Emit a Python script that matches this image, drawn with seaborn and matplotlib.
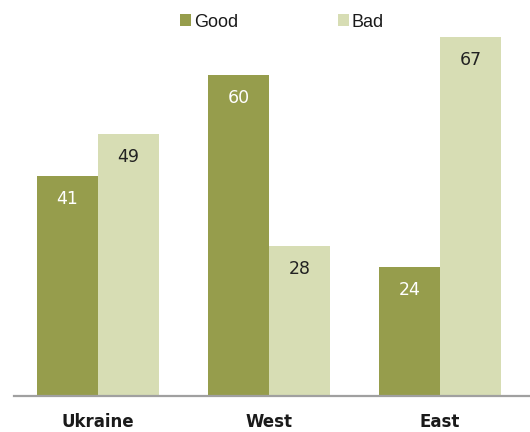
import matplotlib
matplotlib.use("Agg")
import matplotlib.pyplot as plt
import seaborn as sns
import pandas as pd

regions = ["Ukraine", "West", "East"]
series = ["Good", "Bad"]
good = [41, 60, 24]
bad = [49, 28, 67]

df = pd.DataFrame({
    "region": regions * 2,
    "series": ["Good"] * 3 + ["Bad"] * 3,
    "value": good + bad,
})

sns.set_style("white")
plt.rcParams['font.family'] = ['Liberation Sans', 'DejaVu Sans']

colors = {"Good": "#969D4C", "Bad": "#D7DDB4"}

fig = plt.figure(figsize=(5.30, 4.32), dpi=100)
ax = fig.add_axes([14/530, 36/432, 516/530, 375/432])
sns.barplot(data=df, x="region", y="value", hue="series", order=regions,
            hue_order=series, palette=colors, width=0.715, saturation=1,
            linewidth=0, ax=ax, legend=True)

ax.set_ylim(0, 70)
ax.set_xlim(-0.49, 2.526)
ax.set_xlabel("")
ax.set_ylabel("")
ax.set_yticks([])
for s in ["top", "right", "left"]:
    ax.spines[s].set_visible(False)
ax.spines["bottom"].set_color("#A0A0A0")
ax.spines["bottom"].set_linewidth(1.6)
ax.tick_params(axis="x", length=0, pad=12)
for lab in ax.get_xticklabels():
    lab.set_fontweight("bold")
    lab.set_fontsize(12)
    lab.set_family("DejaVu Sans")
    lab.set_color("#1a1a1a")

for cont, name in zip(ax.containers, series):
    col = "white" if name == "Good" else "#222222"
    for bar in cont:
        h = bar.get_height()
        ax.annotate(f"{int(round(h))}", (bar.get_x() + bar.get_width() / 2, h),
                    xytext=(0, -23), textcoords="offset pixels",
                    ha="center", va="center", color=col, fontsize=12.5,
                    family="DejaVu Sans")

handles, labels = ax.get_legend_handles_labels()
ax.get_legend().remove()
fig.legend(handles, labels, loc="center", bbox_to_anchor=(0.532, 0.949),
           ncol=2, frameon=False, prop={"family": "Liberation Sans", "size": 13},
           handlelength=0.61, handleheight=0.61, handletextpad=0.18,
           columnspacing=5.5, labelcolor="#1a1a1a")

fig.savefig("out.png", dpi=100)
